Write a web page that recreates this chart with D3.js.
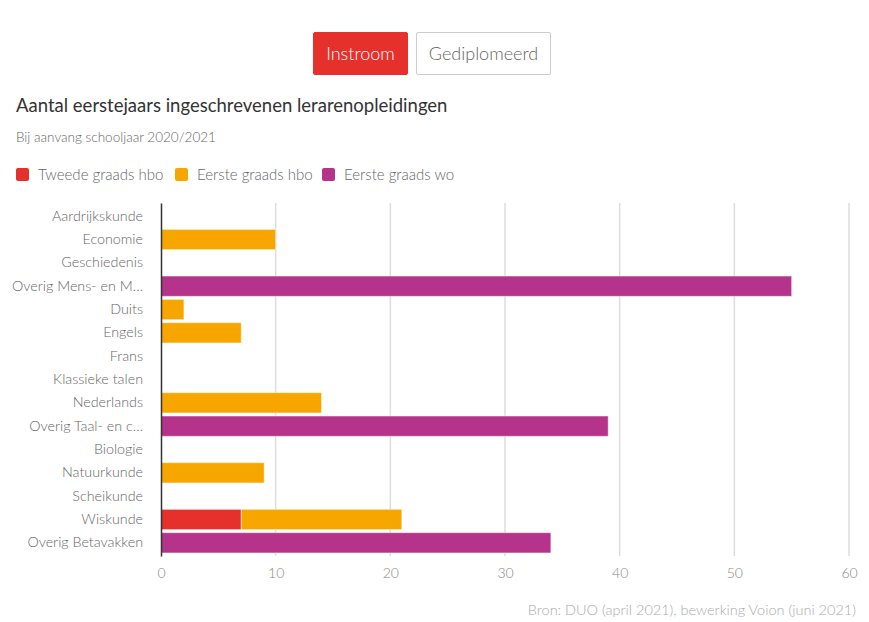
<!DOCTYPE html>
<html>
<head>
    <meta charset="utf-8">
    <title>Instroom lerarenopleidingen</title>
    <script src="https://cdn.jsdelivr.net/npm/d3@7"></script>
    <style>
        body { margin: 0; background: #fff; font-family: Lato, "Open Sans", sans-serif; }
        .btn { position: absolute; top: 32px; height: 43px; box-sizing: border-box; border-radius: 2px;
               font-size: 18px; line-height: 41px; text-align: center; font-weight: 300; }
        #btn-in { left: 313px; width: 95px; background: #e6302b; color: #fff; border: 1px solid #e6302b; }
        #btn-dip { left: 416px; width: 135px; background: #fff; color: #666; border: 1px solid #ccc; }
    </style>
</head>
<body>
<div class="btn" id="btn-in">Instroom</div>
<div class="btn" id="btn-dip">Gediplomeerd</div>
<svg id="chart" width="869" height="622" style="position:absolute;left:0;top:0;z-index:-1"></svg>

<script>
    // vakken, van boven naar beneden
    const categories = ["Aardrijkskunde", "Economie", "Geschiedenis", "Overig Mens- en M\u2026",
        "Duits", "Engels", "Frans", "Klassieke talen", "Nederlands", "Overig Taal- en c\u2026",
        "Biologie", "Natuurkunde", "Scheikunde", "Wiskunde", "Overig Betavakken"];
    const seriesNames = ["Tweede graads hbo", "Eerste graads hbo", "Eerste graads wo"];
    const tweedeGraadsHbo = [0, 0, 0, 0, 0, 0, 0, 0, 0, 0, 0, 0, 0, 7, 0];
    const eersteGraadsHbo = [0, 10, 0, 0, 2, 7, 0, 0, 14, 0, 0, 9, 0, 14, 0];
    const eersteGraadsWo = [0, 0, 0, 55, 0, 0, 0, 0, 0, 39, 0, 0, 0, 0, 34];
    const xTicks = [0, 10, 20, 30, 40, 50, 60];
    const colors = ["#e6302b", "#f7a600", "#b5338a"];

    const svg = d3.select("#chart");
    const margin = {left: 161, right: 20, top: 203, bottom: 66};
    const W = 869, H = 622;

    // titles
    svg.append("text").attr("x", 16).attr("y", 112)
        .style("font-size", "18.5px").style("fill", "#333").style("font-weight", 400)
        .text("Aantal eerstejaars ingeschrevenen lerarenopleidingen");
    svg.append("text").attr("x", 16).attr("y", 142)
        .style("font-size", "13.5px").style("fill", "#666").style("font-weight", 300)
        .text("Bij aanvang schooljaar 2020/2021");

    // legend
    const legendX = [16, 175, 322];
    const lg = svg.selectAll("g.legend").data(seriesNames).join("g")
        .attr("class", "legend")
        .attr("transform", (d, i) => `translate(${legendX[i]}, 168)`);
    lg.append("rect").attr("width", 13).attr("height", 13).attr("rx", 2)
        .attr("fill", (d, i) => colors[i]);
    lg.append("text").attr("x", 22).attr("y", 12)
        .style("font-size", "15px").style("fill", "#666").style("font-weight", 300)
        .text(d => d);

    const x = d3.scaleLinear().domain([0, 60]).range([margin.left, W - margin.right]);
    const y = d3.scaleBand().domain(categories).range([margin.top, H - margin.bottom]).padding(0.13);

    // grid
    svg.append("g").selectAll("line").data(xTicks.slice(1)).join("line")
        .attr("x1", d => x(d)).attr("x2", d => x(d))
        .attr("y1", margin.top).attr("y2", H - margin.bottom)
        .attr("stroke", "#ddd").attr("stroke-width", 1.5);

    // stacked bars
    const rows = categories.map((c, i) => ({
        cat: c, a: tweedeGraadsHbo[i], b: eersteGraadsHbo[i], c: eersteGraadsWo[i]
    }));
    const stack = d3.stack().keys(["a", "b", "c"])(rows);
    svg.append("g").selectAll("g").data(stack).join("g")
        .attr("fill", (d, i) => colors[i])
        .selectAll("rect").data(d => d.filter(p => p[1] > p[0])).join("rect")
        .attr("x", d => x(d[0]))
        .attr("width", d => x(d[1]) - x(d[0]))
        .attr("y", d => y(d.data.cat))
        .attr("height", y.bandwidth())
        .attr("stroke", "rgba(255,255,255,0.5)").attr("stroke-width", 1);

    // y axis
    const yAxis = svg.append("g").attr("transform", `translate(${margin.left},0)`)
        .call(d3.axisLeft(y).tickSize(0).tickPadding(18));
    yAxis.select(".domain").attr("stroke", "#333").attr("stroke-width", 1.5);
    yAxis.selectAll("text").style("font-size", "14.3px").style("fill", "#666")
        .style("font-family", "Lato, sans-serif").style("font-weight", 300);

    // x axis
    const xAxis = svg.append("g").attr("transform", `translate(0,${H - margin.bottom})`)
        .call(d3.axisBottom(x).tickValues(xTicks).tickSize(0).tickPadding(12));
    xAxis.select(".domain").remove();
    xAxis.selectAll("text").style("font-size", "14px").style("fill", "#888")
        .style("font-family", "Lato, sans-serif").style("font-weight", 300);

    // source
    svg.append("text").attr("x", 856).attr("y", 615).attr("text-anchor", "end")
        .style("font-size", "14.5px").style("fill", "#aaa").style("font-weight", 300)
        .text("Bron:  DUO (april 2021), bewerking Voion (juni 2021)");
</script>
</body>
</html>
